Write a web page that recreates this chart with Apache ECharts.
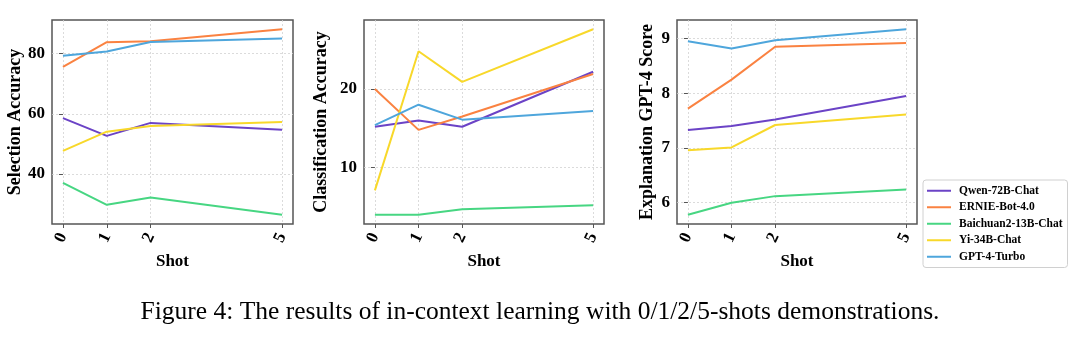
<!DOCTYPE html>
<html>
<head>
<meta charset="utf-8">
<script src="https://cdn.jsdelivr.net/npm/echarts@6/dist/echarts.min.js"></script>
<style>
  html, body { margin: 0; padding: 0; background: #fff; }
  #chart { width: 1080px; height: 343px; }
</style>
</head>
<body>
<div id="chart"></div>
<script>
// In-context learning results: accuracy / score per number of shots
const shots = [0, 1, 2, 5];
const models = ['Qwen-72B-Chat', 'ERNIE-Bot-4.0', 'Baichuan2-13B-Chat', 'Yi-34B-Chat', 'GPT-4-Turbo'];
const colors = ['#6b43c6', '#fa8241', '#47d682', '#f8d82a', '#4ea6dc'];

// Selection accuracy (left panel)
const selQwen     = [58.6, 52.7, 57.0, 54.7];
const selErnie    = [75.6, 83.8, 84.1, 88.1];
const selBaichuan = [37.1, 29.8, 32.2, 26.5];
const selYi       = [47.7, 54.1, 56.0, 57.3];
const selGpt      = [79.3, 80.7, 83.9, 85.0];

// Classification accuracy (middle panel)
const clsQwen     = [15.2, 16.0, 15.2, 22.2];
const clsErnie    = [20.0, 14.8, 16.5, 21.9];
const clsBaichuan = [4.0, 4.0, 4.7, 5.2];
const clsYi       = [7.1, 24.8, 20.9, 27.6];
const clsGpt      = [15.4, 18.0, 16.1, 17.2];

// Explanation GPT-4 score (right panel)
const expQwen     = [7.33, 7.40, 7.52, 7.95];
const expErnie    = [7.72, 8.25, 8.85, 8.92];
const expBaichuan = [5.78, 6.00, 6.12, 6.24];
const expYi       = [6.96, 7.01, 7.42, 7.61];
const expGpt      = [8.95, 8.82, 8.97, 9.17];

// Tick labels
const xTicks = [0, 1, 2, 5];
const selTicks = [40, 60, 80];
const clsTicks = [10, 20];
const expTicks = [6, 7, 8, 9];

const panels = [
  { name: 'Selection Accuracy', ticks: selTicks, data: [selQwen, selErnie, selBaichuan, selYi, selGpt] },
  { name: 'Classification Accuracy', ticks: clsTicks, data: [clsQwen, clsErnie, clsBaichuan, clsYi, clsGpt] },
  { name: 'Explanation GPT-4 Score', ticks: expTicks, data: [expQwen, expErnie, expBaichuan, expYi, expGpt] }
];

const FONT = '"Liberation Serif", "DejaVu Serif", serif';
const gridPos = [
  { left: 52, top: 20, width: 241, height: 204 },
  { left: 364, top: 20, width: 240, height: 204 },
  { left: 677, top: 20, width: 240, height: 204 }
];
const yNameGap = [26, 34, 21];

// 5% padding on each side of the data range
function padded(arrs) {
  const all = [].concat(...arrs);
  const lo = Math.min(...all), hi = Math.max(...all);
  const m = (hi - lo) * 0.05;
  return [lo - m, hi + m];
}
const xRange = padded([shots]);

const grids = [], xAxes = [], yAxes = [], series = [];
panels.forEach((p, i) => {
  grids.push(Object.assign({ show: true, borderColor: '#555', borderWidth: 1.5, backgroundColor: '#fff' }, gridPos[i]));
  const gridStyle = { show: true, lineStyle: { color: '#d2d2d2', type: [2, 2], width: 0.8 } };
  xAxes.push({
    type: 'value', gridIndex: i, min: xRange[0], max: xRange[1],
    name: 'Shot', nameLocation: 'middle', nameGap: 28,
    nameTextStyle: { fontFamily: FONT, fontWeight: 'bold', fontSize: 17, color: '#000' },
    axisLine: { show: false },
    axisTick: { show: true, length: 4, customValues: xTicks, lineStyle: { color: '#555', width: 1 } },
    axisLabel: { customValues: xTicks, rotate: 65, margin: 10, fontFamily: FONT, fontWeight: 'bold', fontSize: 17, color: '#000' },
    splitLine: gridStyle
  });
  const yr = padded(p.data);
  yAxes.push({
    type: 'value', gridIndex: i, min: yr[0], max: yr[1],
    name: p.name, nameLocation: 'middle', nameRotate: 90, nameGap: yNameGap[i],
    nameTextStyle: { fontFamily: FONT, fontWeight: 'bold', fontSize: 18, color: '#000' },
    axisLine: { show: false },
    axisTick: { show: true, length: 4, customValues: p.ticks, lineStyle: { color: '#555', width: 1 } },
    axisLabel: { customValues: p.ticks, margin: 7, fontFamily: FONT, fontWeight: 'bold', fontSize: 17, color: '#000' },
    splitLine: gridStyle
  });
  p.data.forEach((vals, k) => {
    series.push({
      type: 'line', name: models[k], xAxisIndex: i, yAxisIndex: i,
      data: shots.map((s, j) => [s, vals[j]]),
      symbol: 'none', color: colors[k],
      lineStyle: { width: 2, color: colors[k] },
      animation: false
    });
  });
});

const chart = echarts.init(document.getElementById('chart'), null, { renderer: 'canvas' });
chart.setOption({
  backgroundColor: '#fff',
  animation: false,
  title: {
    text: 'Figure 4: The results of in-context learning with 0/1/2/5-shots demonstrations.',
    left: 'center', top: 294,
    textStyle: { fontFamily: FONT, fontWeight: 'normal', fontSize: 25.5, color: '#000' }
  },
  legend: {
    data: models, orient: 'vertical', left: 923, top: 180,
    backgroundColor: '#fff', borderColor: '#d0d0d0', borderWidth: 1, borderRadius: 3,
    padding: [4, 5, 4, 4], itemGap: 3, itemWidth: 24, itemHeight: 2,
    icon: 'path://M0,0 H24 V2 H0 Z',
    textStyle: { fontFamily: FONT, fontWeight: 'bold', fontSize: 11.5, color: '#000', padding: [0, 0, 0, 3], lineHeight: 13.5 }
  },
  grid: grids, xAxis: xAxes, yAxis: yAxes, series: series
});
</script>
</body>
</html>
